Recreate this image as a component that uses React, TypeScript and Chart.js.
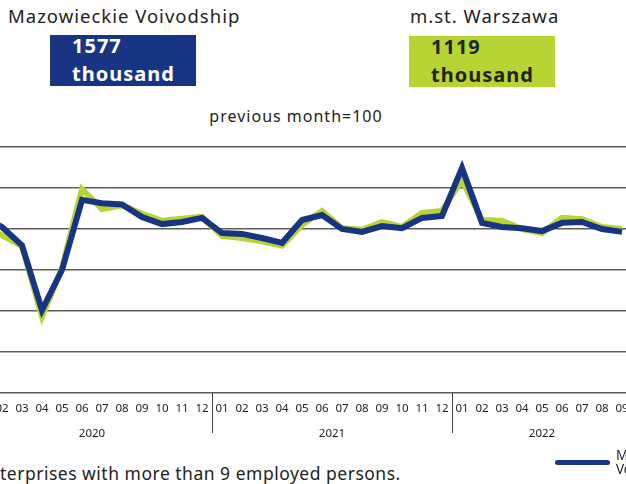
import React, { useEffect, useRef } from "react";
import { Chart, registerables } from "chart.js";

Chart.register(...registerables);

const months = [
  "01", "02", "03", "04", "05", "06", "07", "08", "09", "10", "11", "12",
  "01", "02", "03", "04", "05", "06", "07", "08", "09", "10", "11", "12",
  "01", "02", "03", "04", "05", "06", "07", "08", "09",
];
const years = ["2020", "2021", "2022"];
const yearStartIdx = [0, 12, 24];

const mazowieckie = [
  100.3, 100.05, 99.6, 98.02, 99.0, 100.71, 100.63, 100.6, 100.29, 100.12, 100.17, 100.27,
  99.9, 99.88, 99.78, 99.66, 100.22, 100.34, 100.0, 99.93, 100.07, 100.02, 100.27, 100.32,
  101.49, 100.15, 100.05, 100.02, 99.95, 100.15, 100.17, 100.0, 99.93,
];
const warszawa = [
  100.1, 99.85, 99.58, 97.87, 99.05, 100.97, 100.49, 100.58, 100.37, 100.2, 100.25, 100.3,
  99.83, 99.78, 99.7, 99.59, 100.1, 100.44, 100.02, 99.98, 100.17, 100.05, 100.39, 100.44,
  101.2, 100.22, 100.2, 100.0, 99.9, 100.27, 100.24, 100.05, 100.0,
];

const BLUE = "#183583";
const GREEN = "#b6d433";
const FONT = "'Noto Sans', sans-serif";

const axisPlugin = {
  id: "monthYearAxis",
  afterDraw(chart: any) {
    const ctx = chart.ctx;
    const x = chart.scales.x;
    const area = chart.chartArea;
    ctx.save();
    ctx.fillStyle = "#222";
    ctx.font = `11.5px ${FONT}`;
    ctx.textAlign = "center";
    ctx.textBaseline = "middle";
    months.forEach((m, i) => {
      ctx.fillText(m, x.getPixelForValue(i), area.bottom + 16);
    });
    years.forEach((y, k) => {
      const s = yearStartIdx[k];
      const e = k + 1 < yearStartIdx.length ? yearStartIdx[k + 1] - 1 : months.length - 1;
      const cx = (x.getPixelForValue(s) + x.getPixelForValue(e)) / 2;
      ctx.fillText(y, cx, area.bottom + 41);
    });
    ctx.strokeStyle = "#444";
    ctx.lineWidth = 1;
    yearStartIdx.slice(1).forEach((s) => {
      const px = Math.round((x.getPixelForValue(s - 1) + x.getPixelForValue(s)) / 2) + 0.5;
      ctx.beginPath();
      ctx.moveTo(px, area.bottom);
      ctx.lineTo(px, area.bottom + 40);
      ctx.stroke();
    });
    ctx.restore();
  },
};

function LineChart() {
  const ref = useRef<HTMLCanvasElement | null>(null);
  useEffect(() => {
    if (!ref.current) return;
    const chart = new Chart(ref.current, {
      type: "line",
      data: {
        labels: months,
        datasets: [
          {
            label: "Mazowieckie Voivodship",
            data: mazowieckie,
            borderColor: BLUE,
            backgroundColor: BLUE,
            borderWidth: 6,
            pointRadius: 0,
            tension: 0,
          },
          {
            label: "m.st. Warszawa",
            data: warszawa,
            borderColor: GREEN,
            backgroundColor: GREEN,
            borderWidth: 6,
            pointRadius: 0,
            tension: 0,
          },
        ],
      },
      options: {
        animation: false,
        responsive: false,
        devicePixelRatio: 1,
        layout: { padding: { left: 12, right: 8, top: 17, bottom: 67 } },
        plugins: { legend: { display: false }, tooltip: { enabled: false } },
        scales: {
          x: { display: false, offset: true },
          y: {
            min: 96,
            max: 102,
            ticks: { display: false, stepSize: 1 },
            border: { display: false },
            grid: { color: "#5c5c5c", lineWidth: 1.5, drawTicks: false },
          },
        },
      },
      plugins: [axisPlugin],
    });
    return () => chart.destroy();
  }, []);
  return <canvas ref={ref} width={680} height={330} style={{ display: "block" }} />;
}

const boxText: React.CSSProperties = {
  fontFamily: FONT,
  fontWeight: 700,
  fontSize: 20,
  lineHeight: "28px",
  letterSpacing: 1,
};

export default function App() {
  return (
    <div
      style={{
        position: "fixed",
        left: 0,
        top: 0,
        width: 626,
        height: 484,
        overflow: "hidden",
        background: "#fff",
        fontFamily: FONT,
        color: "#222",
      }}
    >
      <div style={{ position: "absolute", left: 8, top: 3, fontSize: 18.5, letterSpacing: 1, whiteSpace: "nowrap" }}>
        Mazowieckie Voivodship
      </div>
      <div
        style={{
          position: "absolute",
          left: 50,
          top: 35,
          width: 146,
          height: 51,
          background: BLUE,
          color: "#fff",
          boxSizing: "border-box",
          paddingLeft: 22,
        }}
      >
        <div style={{ ...boxText, marginTop: -3 }}>1577</div>
        <div style={{ ...boxText, marginTop: 0 }}>thousand</div>
      </div>
      <div style={{ position: "absolute", left: 410, top: 3, fontSize: 18.5, letterSpacing: 1, whiteSpace: "nowrap" }}>
        m.st. Warszawa
      </div>
      <div
        style={{
          position: "absolute",
          left: 409,
          top: 36,
          width: 146,
          height: 51,
          background: GREEN,
          color: "#222",
          boxSizing: "border-box",
          paddingLeft: 22,
        }}
      >
        <div style={{ ...boxText, marginTop: -3 }}>1119</div>
        <div style={{ ...boxText, marginTop: 0 }}>thousand</div>
      </div>
      <div
        style={{
          position: "absolute",
          left: 0,
          width: 592,
          top: 105,
          textAlign: "center",
          fontSize: 16,
          letterSpacing: 1,
          whiteSpace: "nowrap",
        }}
      >
        previous month=100
      </div>
      <div style={{ position: "absolute", left: -40, top: 130 }}>
        <LineChart />
      </div>
      <div style={{ position: "absolute", left: 0, top: 461, fontSize: 17.5, letterSpacing: 0.5, whiteSpace: "nowrap" }}>
        <span style={{ position: "absolute", right: "100%", top: 0 }}>Data concern en</span>
        terprises with more than 9 employed persons.
      </div>
      <div style={{ position: "absolute", left: 555, top: 448, display: "flex", alignItems: "center" }}>
        <div style={{ width: 55, height: 5, borderRadius: 3, background: BLUE }} />
        <div style={{ marginLeft: 6, fontSize: 13.5, lineHeight: "14px", whiteSpace: "nowrap" }}>
          Mazowieckie
          <br />
          Voivodship
        </div>
      </div>
    </div>
  );
}
